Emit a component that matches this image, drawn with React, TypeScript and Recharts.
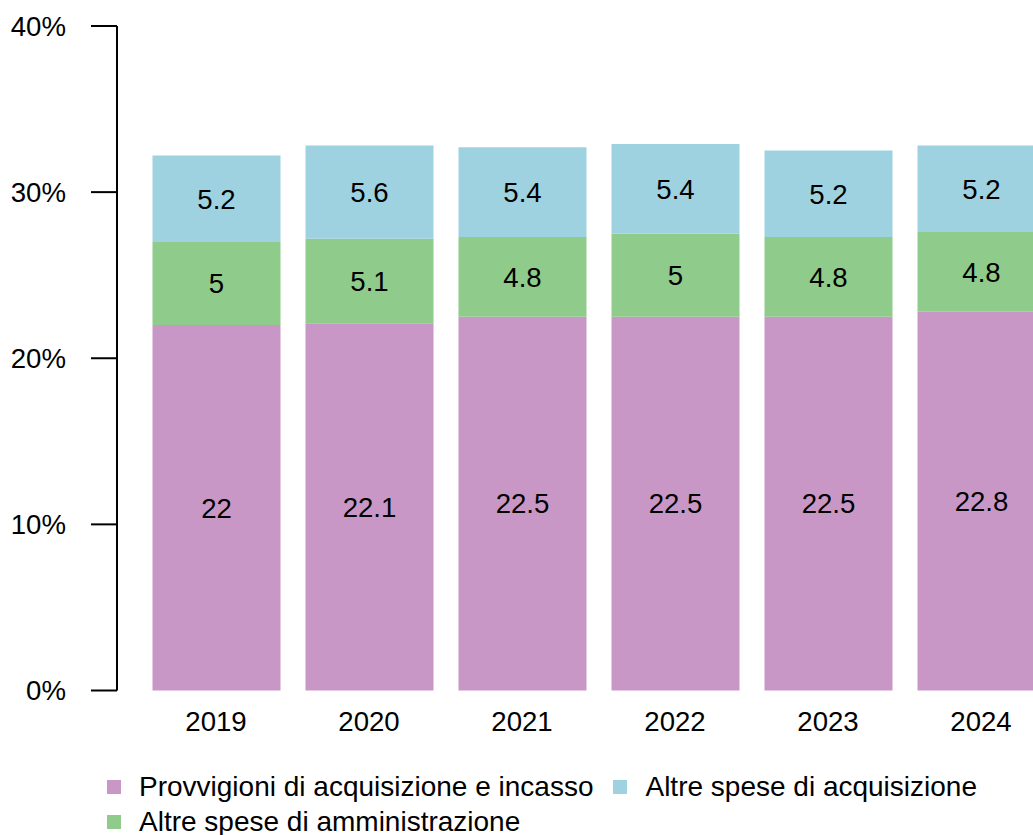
import { Bar, BarChart, LabelList, XAxis, YAxis } from "recharts";

const years = ["2019", "2020", "2021", "2022", "2023", "2024"];
const provvigioni = [22, 22.1, 22.5, 22.5, 22.5, 22.8];
const amministrazione = [5, 5.1, 4.8, 5, 4.8, 4.8];
const acquisizione = [5.2, 5.6, 5.4, 5.4, 5.2, 5.2];
const yTicks = [0, 10, 20, 30, 40];

const series = [
  { key: "provvigioni", name: "Provvigioni di acquisizione e incasso", color: "#C997C6" },
  { key: "amministrazione", name: "Altre spese di amministrazione", color: "#8FCB8B" },
  { key: "acquisizione", name: "Altre spese di acquisizione", color: "#9ED2E0" },
];
const legendOrder = ["provvigioni", "acquisizione", "amministrazione"];

const data = years.map((year, i) => ({
  year,
  provvigioni: provvigioni[i],
  amministrazione: amministrazione[i],
  acquisizione: acquisizione[i],
}));

const font = "'Liberation Sans', Arial, sans-serif";
const fs = 27.6;

export default function App() {
  return (
    <div
      style={{
        position: "fixed",
        top: 0,
        left: 0,
        width: 1033,
        height: 835,
        overflow: "hidden",
        background: "#fff",
        fontFamily: font,
      }}
    >
      <BarChart
        width={1070}
        height={835}
        data={data}
        margin={{ top: 26, right: 12.5, bottom: 104.5, left: 0 }}
        barSize={128}
      >
        <XAxis
          dataKey="year"
          axisLine={false}
          tickLine={false}
          tickMargin={15}
          height={40}
          padding={{ left: 22.5, right: 0 }}
          tick={{ fill: "#000", fontSize: fs, fontFamily: font }}
        />
        <YAxis
          domain={[0, 40]}
          ticks={yTicks}
          width={117}
          tickSize={26}
          tickMargin={25}
          tickFormatter={(v) => `${v}%`}
          axisLine={{ stroke: "#000", strokeWidth: 2 }}
          tickLine={{ stroke: "#000", strokeWidth: 2 }}
          tick={{ fill: "#000", fontSize: fs, fontFamily: font }}
        />
        {series.map((s) => (
          <Bar key={s.key} dataKey={s.key} name={s.name} stackId="a" fill={s.color} isAnimationActive={false}>
            <LabelList dataKey={s.key} position="center" fill="#000" fontSize={fs} fontFamily={font} />
          </Bar>
        ))}
      </BarChart>
      <div
        style={{
          position: "absolute",
          left: 107,
          top: 769,
          display: "grid",
          gridTemplateColumns: "auto auto",
          columnGap: 20,
        }}
      >
        {legendOrder.map((k) => {
          const s = series.find((x) => x.key === k)!;
          return (
            <div key={k} style={{ display: "flex", alignItems: "center", height: 35.5 }}>
              <span style={{ width: 14, height: 14, background: s.color, marginRight: 18, flex: "none" }} />
              <span style={{ fontSize: 28, color: "#000", whiteSpace: "nowrap", lineHeight: 1 }}>{s.name}</span>
            </div>
          );
        })}
      </div>
    </div>
  );
}
